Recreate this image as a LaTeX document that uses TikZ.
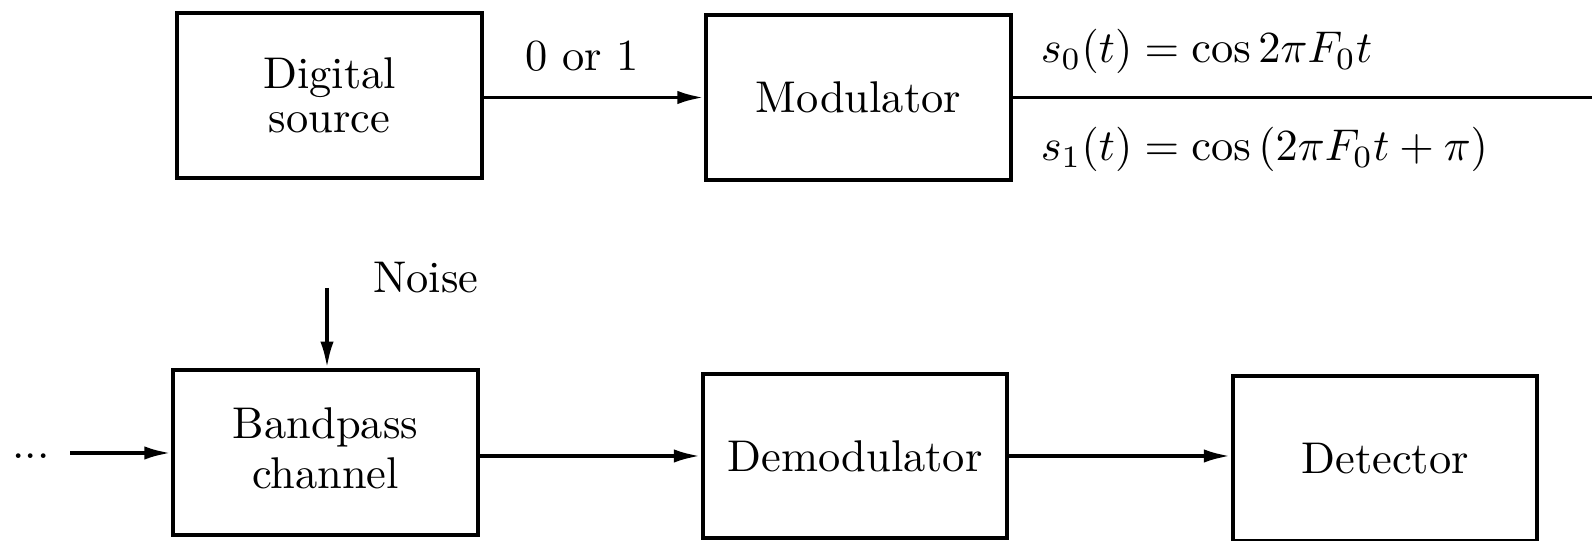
\documentclass[tikz,border=0pt]{standalone}
\usetikzlibrary{arrows.meta}
\begin{document}
\begin{tikzpicture}[x=0.225pt,y=-0.225pt,
  blk/.style={draw,line width=0.9pt,minimum width=68.6pt,minimum height=37pt,inner sep=0pt,align=center,font=\fontsize{10}{9.8}\selectfont},
  arr/.style={line width=0.85pt,-{Latex[length=6pt,width=3pt]}},
  wire/.style={line width=0.85pt},
  lbl/.style={inner sep=0pt,font=\fontsize{10}{12}\selectfont}]
\useasboundingbox (0,0) rectangle (1592,541);
% blocks
\node[blk] (ds)  at (329.5,95.5) {Digital\\source};
\node[blk] (mod) at (858.5,97.5) {Modulator};
\node[blk] (bp)  at (325.5,452.5) {\raisebox{2pt}{\shortstack{Bandpass\\[-0.5pt]channel}}};
\node[blk] (dm)  at (855,456) {Demodulator};
\node[blk] (det) at (1385,458.5) {Detector};
% labels
\node[lbl,anchor=base] (bit) at (582,71) {0 or 1};
\node[lbl,anchor=base west] (s0) at (1040,63) {$s_0(t) = \cos 2\pi F_0 t$};
\node[lbl,anchor=base west] (s1) at (1040,161) {$s_1(t) = \cos\,(2\pi F_0 t + \pi)$};
\node[lbl,anchor=base] (noise) at (426,293) {Noise};
\node[lbl,anchor=base] (dots) at (31,458.5) {...};
% free ends
\coordinate (out) at (1592,100);
\coordinate (nz) at (327,288);
\coordinate (in) at (70,453);
% connectors
\draw[arr] (ds.east |- mod.west) -- (mod.west);
\draw[wire] (mod.east) -- (out |- mod.east);
\draw[arr] (nz) -- (nz |- bp.north);
\draw[arr] (in) -- (in -| bp.west);
\draw[arr] (bp.east |- dm.west) -- (dm.west);
\draw[arr] (dm.east) -- (dm.east -| det.west);
\end{tikzpicture}
\end{document}
